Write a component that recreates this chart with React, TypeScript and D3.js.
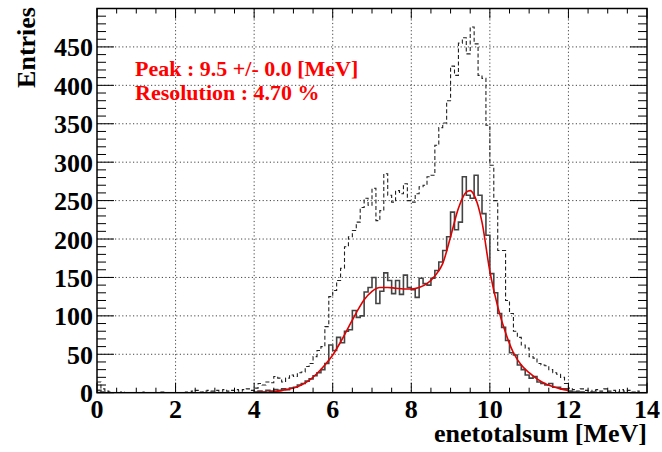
import React from "react";
import * as d3 from "d3";

// ---- data ----
const binWidth = 0.1;
const xDomain = [0, 14];
const yDomain = [0, 500];
const xMajorTicks = [0, 2, 4, 6, 8, 10, 12, 14];
const yMajorTicks = [0, 50, 100, 150, 200, 250, 300, 350, 400, 450];
const xTitle = "enetotalsum [MeV]";
const yTitle = "Entries";
const legendLines = ["Peak : 9.5 +/- 0.0 [MeV]", "Resolution : 4.70 %"];

// dashed histogram (all events), 140 bins of 0.1 MeV
const dashedCounts = [
  14, 5, 2, 1, 0, 0, 1, 0, 0, 0,
  0, 1, 0, 0, 0, 0, 1, 0, 0, 0,
  0, 0, 1, 0, 2, 3, 1, 2, 3, 2,
  3, 2, 4, 2, 3, 4, 2, 4, 5, 3,
  6, 12, 10, 14, 13, 21, 19, 14, 19, 23,
  21, 26, 27, 34, 38, 47, 55, 60, 86, 125,
  133, 146, 162, 190, 203, 211, 222, 241, 253, 244,
  266, 224, 237, 285, 257, 248, 263, 259, 272, 250,
  248, 259, 268, 270, 281, 283, 322, 345, 351, 380,
  425, 413, 455, 462, 441, 476, 454, 413, 409, 348,
  296, 250, 185, 185, 120, 103, 80, 72, 62, 58,
  47, 45, 38, 36, 35, 30, 26, 24, 20, 12,
  6, 4, 2, 5, 3, 1, 3, 4, 2, 5,
  2, 3, 1, 4, 2, 3, 1, 2, 0, 0,
];

// solid histogram (selected events), 140 bins of 0.1 MeV
const solidCounts = [
  3, 1, 0, 0, 0, 0, 0, 0, 0, 0,
  0, 0, 0, 0, 0, 0, 0, 0, 0, 0,
  0, 0, 0, 0, 0, 0, 0, 0, 0, 0,
  0, 0, 0, 0, 0, 0, 0, 0, 0, 0,
  1, 2, 1, 3, 2, 4, 3, 5, 4, 6,
  7, 10, 12, 15, 18, 22, 26, 30, 38, 62,
  55, 72, 65, 80, 82, 107, 98, 100, 131, 137,
  150, 116, 132, 156, 146, 129, 146, 128, 153, 137,
  134, 124, 149, 142, 140, 149, 159, 170, 185, 203,
  235, 212, 222, 281, 257, 253, 283, 257, 233, 205,
  155, 130, 103, 85, 68, 52, 49, 36, 30, 23,
  19, 21, 14, 12, 10, 12, 7, 7, 5, 5,
  2, 1, 0, 1, 0, 0, 1, 0, 0, 0,
  0, 0, 0, 0, 0, 0, 0, 0, 0, 0,
];

// fit curve
const fitX = [4.0, 4.2, 4.4, 4.6, 4.8, 5.0, 5.2, 5.4, 5.6, 5.8, 6.0, 6.2, 6.4, 6.6, 6.8, 7.0, 7.2, 7.4, 7.6, 7.8, 8.0, 8.2, 8.4, 8.6, 8.8, 9.0, 9.2, 9.4, 9.5, 9.6, 9.8, 10.0, 10.2, 10.4, 10.6, 10.8, 11.0, 11.2, 11.4, 11.6, 11.8, 12.0];
const fitY = [0, 0.5, 1, 2, 4, 6, 10, 16, 25, 36, 49, 66, 85, 104, 121, 132, 137, 137, 136, 135, 135, 137, 142, 152, 168, 203, 240, 261, 263, 257, 222, 158, 112, 78, 52, 36, 26, 18, 12, 8, 5, 3];

// ---- layout ----
const W = 662, H = 452;
const L = 97, R = 647, T = 8.5, B = 392.7;

export default function App() {
  const x = d3.scaleLinear().domain(xDomain).range([L, R]);
  const y = d3.scaleLinear().domain(yDomain).range([B, T]);

  const stepLine = d3.line<[number, number]>()
    .x((d) => x(d[0]))
    .y((d) => y(d[1]))
    .curve(d3.curveStepAfter);

  const histPts = (counts: number[]) => {
    const pts: [number, number][] = counts.map((c, i) => [i * binWidth, c]);
    pts.push([counts.length * binWidth, counts[counts.length - 1]]);
    return pts;
  };

  const fitLine = d3.line<number>()
    .x((_, i) => x(fitX[i]))
    .y((d) => y(d))
    .curve(d3.curveMonotoneX);

  const xMinor = d3.range(0, 14.001, 0.5);
  const yMinor = d3.range(0, 500.001, 10);
  const font = "'Liberation Serif', 'Times New Roman', serif";

  return (
    <svg width={W} height={H} style={{ position: "absolute", left: 0, top: 0, background: "#fff" }}>
      <defs>
        <clipPath id="frame">
          <rect x={L} y={T} width={R - L} height={B - T} />
        </clipPath>
      </defs>
      {/* grid */}
      <g stroke="#444" strokeWidth={1} strokeDasharray="1.2,2.4">
        {xMajorTicks.filter((v) => v > 0 && v < 14).map((v) => (
          <line key={"gx" + v} x1={x(v)} x2={x(v)} y1={T} y2={B} />
        ))}
        {yMajorTicks.filter((v) => v > 0).map((v) => (
          <line key={"gy" + v} x1={L} x2={R} y1={y(v)} y2={y(v)} />
        ))}
      </g>
      {/* histograms */}
      <g clipPath="url(#frame)" fill="none">
        <path d={stepLine(histPts(dashedCounts)) || ""} stroke="#222" strokeWidth={1.1} strokeDasharray="4,2.5" />
        <path d={stepLine(histPts(solidCounts)) || ""} stroke="#444" strokeWidth={1.6} />
        <path d={fitLine(fitY) || ""} stroke="#e00000" strokeWidth={1.6} />
      </g>
      {/* ticks */}
      <g stroke="#000" strokeWidth={1}>
        {xMinor.map((v) => {
          const major = Math.abs(v / 2 - Math.round(v / 2)) < 1e-6;
          const len = major ? 10 : 5;
          return (
            <g key={"tx" + v}>
              <line x1={x(v)} x2={x(v)} y1={B} y2={B - len} />
              <line x1={x(v)} x2={x(v)} y1={T} y2={T + len} />
            </g>
          );
        })}
        {yMinor.map((v) => {
          const major = v % 50 === 0;
          const len = major ? 17 : 9;
          return (
            <g key={"ty" + v}>
              <line x1={L} x2={L + len} y1={y(v)} y2={y(v)} />
              <line x1={R} x2={R - len} y1={y(v)} y2={y(v)} />
            </g>
          );
        })}
      </g>
      {/* frame */}
      <rect x={L} y={T} width={R - L} height={B - T} fill="none" stroke="#000" strokeWidth={1.5} />
      {/* tick labels */}
      <g fontFamily={font} fontWeight="bold" fontSize={26} fill="#000">
        {yMajorTicks.map((v) => (
          <text key={"ly" + v} x={93} y={y(v) + 9.5} textAnchor="end">{v}</text>
        ))}
        {xMajorTicks.map((v) => (
          <text key={"lx" + v} x={x(v)} y={418} textAnchor="middle">{v}</text>
        ))}
        <text x={R} y={442} textAnchor="end">{xTitle}</text>
        <text transform={`translate(35,7) rotate(-90)`} textAnchor="end">{yTitle}</text>
      </g>
      {/* legend */}
      <g fontFamily={font} fontWeight="bold" fontSize={22} fill="#ff0000">
        {legendLines.map((t, i) => (
          <text key={t} x={135} y={75.5 + i * 24}>{t}</text>
        ))}
      </g>
    </svg>
  );
}
